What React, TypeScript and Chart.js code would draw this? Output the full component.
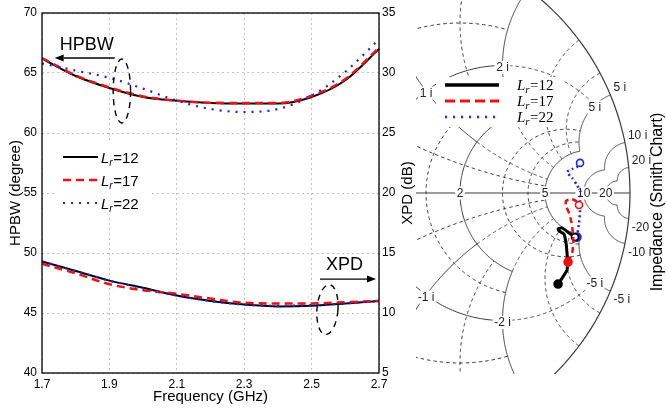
import React, { useEffect, useRef } from 'react';
import { Chart, registerables } from 'chart.js';

Chart.register(...registerables);

const SANS = "Arial, 'Liberation Sans', Helvetica, sans-serif";
const SERIF = "'Times New Roman', 'Liberation Serif', serif";
Chart.defaults.font.family = SANS;
Chart.defaults.color = '#000';

// ---------- HPBW / XPD versus frequency ----------
const frequencyGHz = [1.7, 1.8, 1.9, 2.0, 2.1, 2.2, 2.3, 2.4, 2.5, 2.6, 2.7];
const frequencyTicks = [1.7, 1.9, 2.1, 2.3, 2.5, 2.7];
const hpbwTicks = [40, 45, 50, 55, 60, 65, 70];
const xpdTicks = [5, 10, 15, 20, 25, 30, 35];

const lengthLabels = ['12', '17', '22'];

const hpbwLr12 = [66.2, 64.75, 63.75, 63.0, 62.68, 62.5, 62.45, 62.45, 63.0, 64.4, 67.0];
const hpbwLr17 = [66.25, 64.8, 63.8, 63.05, 62.7, 62.52, 62.5, 62.5, 63.1, 64.5, 67.1];
const hpbwLr22 = [65.8, 65.2, 64.6, 63.7, 62.7, 62.0, 61.75, 62.0, 63.1, 65.1, 67.8];

const xpdLr12 = [14.3, 13.5, 12.7, 12.1, 11.45, 11.0, 10.7, 10.55, 10.6, 10.8, 11.0];
const xpdLr17 = [14.1, 13.3, 12.4, 11.9, 11.6, 11.2, 10.85, 10.8, 10.8, 10.9, 11.0];
const xpdLr22 = [14.3, 13.5, 12.7, 12.05, 11.45, 11.0, 10.7, 10.6, 10.65, 10.8, 11.0];

// ---------- Input impedance on the Smith chart (reflection coefficient) ----------
const smithLr12Re = [0.718, 0.737, 0.753, 0.755, 0.753, 0.749, 0.741, 0.722, 0.718, 0.733, 0.761, 0.784];
const smithLr12Im = [-0.357, -0.329, -0.302, -0.271, -0.235, -0.196, -0.161, -0.149, -0.141, -0.137, -0.157, -0.173];
const smithLr17Re = [0.757, 0.773, 0.778, 0.776, 0.771, 0.761, 0.749, 0.749, 0.769, 0.788, 0.8];
const smithLr17Im = [-0.271, -0.235, -0.196, -0.157, -0.118, -0.078, -0.051, -0.031, -0.024, -0.031, -0.047];
const smithLr22Re = [0.792, 0.8, 0.804, 0.804, 0.806, 0.792, 0.773, 0.753, 0.773, 0.792, 0.804];
const smithLr22Im = [-0.173, -0.118, -0.067, -0.016, 0.004, 0.031, 0.059, 0.082, 0.094, 0.102, 0.118];

// Smith chart grid: [resistance, reactance from, reactance to] and [reactance, resistance from, resistance to]
const majorResistance = [[1, -2, 2], [2, -2, 2], [5, -5, 5], [10, -10, 10], [20, -20, 20]];
const majorReactance = [[1, 0, 2], [-1, 0, 2], [2, 0, 2], [-2, 0, 2], [5, 0, 5], [-5, 0, 5], [10, 0, 10], [-10, 0, 10], [20, 0, 20], [-20, 0, 20]];
const minorResistance = [[0.5, -2, 2], [1.5, -2, 2], [3, -5, 5], [4, -5, 5], [1, 2, 5], [1, -5, -2]];
const minorReactance = [[0.5, 0, 5], [-0.5, 0, 5], [1.5, 0, 2], [-1.5, 0, 2], [3, 0, 5], [-3, 0, 5], [4, 0, 5], [-4, 0, 5], [1, 2, 5], [-1, 2, 5], [2, 2, 5], [-2, 2, 5]];
const axisResistanceTicks = [2, 5, 10, 20];
const rimReactanceTicks = [5, 10, 20, -5, -10, -20];
const rimReactanceText = ['5 i', '10 i', '20 i', '-5 i', '-10 i', '-20'];
const unitCircleReactanceTicks = [1, 2, 5, -1, -2, -5];

// ---------- styles ----------
const COLORS = ['#000000', '#f01010', '#1f1fff'];
const LINE_DASH = [[], [8, 5], [2, 6]];
const LINE_WIDTH = [2, 2.5, 2.2];
const SMITH_DASH = [[], [6, 4], [2, 3]];
const SMITH_WIDTH = [3, 2.5, 2.5];
const LEGEND_DASH = [[], [10, 5], [2, 6]];
const LEGEND_WIDTH = [3.5, 3, 2.5];

const LEFT_W = 416;
const PAGE_H = 411;
// Smith chart frame: centre and radius in page pixels
const SMITH_CX = 375;
const SMITH_CY = 193;
const SMITH_R = 255;
const SMITH_LEFT = 416;
const SMITH_W = 250;
const SMITH_H = 374;

// Annotation anchors (data coordinates)
const hpbwNote = { text: 'HPBW', at: [1.7526, 66.94], from: [1.916, 66.25], to: [1.7377, 66.25], ring: [1.937, 63.5], rx: 8.7, ry: 32 };
const xpdNote = { text: 'XPD', at: [2.5426, 13.55], from: [2.5248, 12.83], to: [2.6911, 12.83], ring: [2.547, 10.28], rx: 10.5, ry: 25 };

function drawArrow(ctx: any, x0: number, y0: number, x1: number, y1: number) {
  const ang = Math.atan2(y1 - y0, x1 - x0);
  const L = 9, W = 3.5;
  const c = Math.cos(ang), s = Math.sin(ang);
  ctx.beginPath();
  ctx.moveTo(x0, y0);
  ctx.lineTo(x1 - L * c, y1 - L * s);
  ctx.stroke();
  ctx.beginPath();
  ctx.moveTo(x1, y1);
  ctx.lineTo(x1 - L * c + W * s, y1 - L * s - W * c);
  ctx.lineTo(x1 - L * c - W * s, y1 - L * s + W * c);
  ctx.closePath();
  ctx.fill();
}

function drawLrText(ctx: any, x: number, baseline: number, value: string, family: string, size: number, sub: number) {
  ctx.fillStyle = '#000';
  ctx.textAlign = 'left';
  ctx.textBaseline = 'alphabetic';
  ctx.font = `italic ${size}px ${family}`;
  ctx.fillText('L', x, baseline);
  x += ctx.measureText('L').width;
  ctx.font = `italic ${sub}px ${family}`;
  ctx.fillText('r', x, baseline + size * 0.2);
  x += ctx.measureText('r').width + 0.5;
  ctx.font = `${size}px ${family}`;
  ctx.fillText('=' + value, x, baseline);
}

const frequencyDecor = {
  id: 'frequencyDecor',
  afterDatasetsDraw(chart: any) {
    const { ctx, chartArea: a } = chart;
    const { x, y, y1 } = chart.scales;
    ctx.save();
    ctx.strokeStyle = '#000';
    ctx.fillStyle = '#000';
    ctx.lineWidth = 1.3;

    // HPBW note (left axis)
    ctx.font = `18px ${SANS}`;
    ctx.textAlign = 'left';
    ctx.textBaseline = 'alphabetic';
    ctx.fillText(hpbwNote.text, x.getPixelForValue(hpbwNote.at[0]), y.getPixelForValue(hpbwNote.at[1]));
    drawArrow(ctx, x.getPixelForValue(hpbwNote.from[0]), y.getPixelForValue(hpbwNote.from[1]),
      x.getPixelForValue(hpbwNote.to[0]), y.getPixelForValue(hpbwNote.to[1]));
    // XPD note (right axis)
    ctx.fillText(xpdNote.text, x.getPixelForValue(xpdNote.at[0]), y1.getPixelForValue(xpdNote.at[1]));
    drawArrow(ctx, x.getPixelForValue(xpdNote.from[0]), y1.getPixelForValue(xpdNote.from[1]),
      x.getPixelForValue(xpdNote.to[0]), y1.getPixelForValue(xpdNote.to[1]));

    ctx.setLineDash([6, 5]);
    ctx.lineWidth = 1.4;
    ctx.beginPath();
    ctx.ellipse(x.getPixelForValue(hpbwNote.ring[0]), y.getPixelForValue(hpbwNote.ring[1]), hpbwNote.rx, hpbwNote.ry, 0, 0, Math.PI * 2);
    ctx.stroke();
    ctx.beginPath();
    ctx.ellipse(x.getPixelForValue(xpdNote.ring[0]), y1.getPixelForValue(xpdNote.ring[1]), xpdNote.rx, xpdNote.ry, 0.08, 0, Math.PI * 2);
    ctx.stroke();
    ctx.setLineDash([]);

    // legend
    ctx.fillStyle = '#fff';
    ctx.fillRect(a.left + 14, a.top + 129, 94, 72);
    for (let i = 0; i < 3; i++) {
      const ds = chart.data.datasets[i];
      const ly = a.top + 144 + i * 23;
      ctx.strokeStyle = ds.borderColor;
      ctx.lineWidth = ds.borderWidth;
      ctx.setLineDash(ds.borderDash || []);
      ctx.beginPath();
      ctx.moveTo(a.left + 21, ly);
      ctx.lineTo(a.left + 56, ly);
      ctx.stroke();
      ctx.setLineDash([]);
      drawLrText(ctx, a.left + 59, ly + 5.5, lengthLabels[i], SANS, 15, 10);
    }
    ctx.restore();
  },
  afterDraw(chart: any) {
    const { ctx, chartArea: a } = chart;
    ctx.save();
    ctx.strokeStyle = '#000';
    ctx.lineWidth = 1.3;
    ctx.strokeRect(a.left, a.top, a.right - a.left, a.bottom - a.top);
    // right-hand axis title, reading upwards
    ctx.translate(a.right + 29, (a.top + a.bottom) / 2);
    ctx.rotate(-Math.PI / 2);
    ctx.font = `15px ${SANS}`;
    ctx.fillStyle = '#000';
    ctx.textAlign = 'center';
    ctx.textBaseline = 'middle';
    ctx.fillText('XPD (dB)', 0, 0);
    ctx.restore();
  },
};

function FrequencyChart() {
  const ref = useRef<HTMLCanvasElement>(null);
  useEffect(() => {
    const hpbw = [hpbwLr12, hpbwLr17, hpbwLr22];
    const xpd = [xpdLr12, xpdLr17, xpdLr22];
    const drawOrder = [2, 1, 0];
    const make = (vals: number[], i: number, axis: string, name: string) => ({
      label: `${name} Lr=${lengthLabels[i]}`,
      data: frequencyGHz.map((f, k) => ({ x: f, y: vals[k] })),
      yAxisID: axis,
      borderColor: COLORS[i],
      borderWidth: LINE_WIDTH[i],
      borderDash: LINE_DASH[i],
      pointRadius: 0,
      cubicInterpolationMode: 'monotone' as const,
      fill: false,
      order: drawOrder[i],
    });
    const datasets = [
      ...hpbw.map((v, i) => make(v, i, 'y', 'HPBW')),
      ...xpd.map((v, i) => make(v, i, 'y1', 'XPD')),
    ];
    const tickFont = { size: 12, family: SANS };
    const chart = new Chart(ref.current as HTMLCanvasElement, {
      type: 'line',
      data: { datasets },
      options: {
        responsive: false,
        animation: false,
        devicePixelRatio: 1,
        layout: { padding: { top: 13, left: 0, right: 0, bottom: 0 }, autoPadding: false },
        plugins: { legend: { display: false }, tooltip: { enabled: false } },
        scales: {
          x: {
            type: 'linear',
            min: 1.7,
            max: 2.7,
            afterBuildTicks: (s: any) => { s.ticks = frequencyTicks.map((v) => ({ value: v })); },
            afterFit: (s: any) => { s.height = 38; },
            ticks: { font: tickFont, color: '#000', padding: 4, maxRotation: 0, callback: (v: any) => Number(v).toFixed(1) },
            grid: { color: '#c4c4c4', lineWidth: 1, drawTicks: false },
            border: { display: false, dash: [2, 3] },
            title: { display: true, text: 'Frequency (GHz)', font: { size: 15, family: SANS }, color: '#000', padding: { top: 0, bottom: 5 } },
          },
          y: {
            type: 'linear',
            position: 'left',
            min: 40,
            max: 70,
            afterBuildTicks: (s: any) => { s.ticks = hpbwTicks.map((v) => ({ value: v })); },
            afterFit: (s: any) => { s.width = 42; },
            ticks: { font: tickFont, color: '#000', padding: 5 },
            grid: { color: '#c4c4c4', lineWidth: 1, drawTicks: false },
            border: { display: false, dash: [2, 3] },
            title: { display: true, text: 'HPBW (degree)', font: { size: 15, family: SANS }, color: '#000', padding: { top: 7, bottom: 0 } },
          },
          y1: {
            type: 'linear',
            position: 'right',
            min: 5,
            max: 35,
            afterBuildTicks: (s: any) => { s.ticks = xpdTicks.map((v) => ({ value: v })); },
            afterFit: (s: any) => { s.width = LEFT_W - 379; },
            ticks: { font: tickFont, color: '#000', padding: 3 },
            grid: { drawOnChartArea: false, drawTicks: false },
            border: { display: false },
          },
        },
      },
      plugins: [frequencyDecor],
    } as any);
    return () => chart.destroy();
  }, []);
  return (
    <canvas
      ref={ref}
      width={LEFT_W}
      height={PAGE_H}
      style={{ position: 'absolute', left: 0, top: 0, width: LEFT_W, height: PAGE_H }}
    />
  );
}

// reflection coefficient of the normalised impedance r + jx
function gamma(r: number, x: number): [number, number] {
  const d = (r + 1) * (r + 1) + x * x;
  return [(r * r + x * x - 1) / d, (2 * x) / d];
}
const normAngle = (a: number) => (a < 0 ? a + Math.PI * 2 : a);

function strokeArc(ctx: any, P: any, cx: number, cy: number, rho: number, a0: number, a1: number) {
  const n = 180;
  ctx.beginPath();
  for (let k = 0; k <= n; k++) {
    const t = a0 + ((a1 - a0) * k) / n;
    const [px, py] = P(cx + rho * Math.cos(t), cy + rho * Math.sin(t));
    if (k === 0) ctx.moveTo(px, py);
    else ctx.lineTo(px, py);
  }
  ctx.stroke();
}
function strokeResistance(ctx: any, P: any, r: number, x0: number, x1: number) {
  const c = r / (r + 1);
  const rho = 1 / (r + 1);
  const g0 = gamma(r, x0);
  const g1 = gamma(r, x1);
  strokeArc(ctx, P, c, 0, rho, normAngle(Math.atan2(g0[1], g0[0] - c)), normAngle(Math.atan2(g1[1], g1[0] - c)));
}
function strokeReactance(ctx: any, P: any, x: number, r0: number, r1: number) {
  const cy = 1 / x;
  const rho = Math.abs(1 / x);
  const g0 = gamma(r0, x);
  const g1 = gamma(r1, x);
  strokeArc(ctx, P, 1, cy, rho, normAngle(Math.atan2(g0[1] - cy, g0[0] - 1)), normAngle(Math.atan2(g1[1] - cy, g1[0] - 1)));
}
function boxedText(ctx: any, text: string, x: number, y: number) {
  const w = ctx.measureText(text).width;
  ctx.fillStyle = '#fff';
  ctx.fillRect(x - w / 2 - 1.5, y - 6.5, w + 3, 13);
  ctx.fillStyle = '#222';
  ctx.textAlign = 'center';
  ctx.textBaseline = 'middle';
  ctx.fillText(text, x, y + 0.5);
}

const smithGrid = {
  id: 'smithGrid',
  beforeDatasetsDraw(chart: any) {
    const { ctx } = chart;
    const sx = chart.scales.x;
    const sy = chart.scales.y;
    const P = (gx: number, gy: number) => [sx.getPixelForValue(gx), sy.getPixelForValue(gy)];
    ctx.save();
    ctx.strokeStyle = '#3a3a3a';
    ctx.lineWidth = 1;
    ctx.setLineDash([3.5, 3]);
    minorResistance.forEach(([r, a, b]) => strokeResistance(ctx, P, r, a, b));
    minorReactance.forEach(([x, a, b]) => strokeReactance(ctx, P, x, a, b));
    ctx.setLineDash([]);
    majorResistance.forEach(([r, a, b]) => strokeResistance(ctx, P, r, a, b));
    majorReactance.forEach(([x, a, b]) => strokeReactance(ctx, P, x, a, b));
    ctx.lineWidth = 1.2;
    strokeArc(ctx, P, 0, 0, 1, 0, Math.PI * 2);
    ctx.lineWidth = 1;
    const [ax0, ay0] = P(-1, 0);
    const [ax1, ay1] = P(1, 0);
    ctx.beginPath();
    ctx.moveTo(ax0, ay0);
    ctx.lineTo(ax1, ay1);
    ctx.stroke();

    ctx.font = `12px ${SANS}`;
    axisResistanceTicks.forEach((r) => {
      const g = gamma(r, 0);
      const [px, py] = P(g[0], g[1]);
      boxedText(ctx, String(r), px, py);
    });
    unitCircleReactanceTicks.forEach((x) => {
      const g = gamma(1, x);
      const [px, py] = P(g[0], g[1]);
      boxedText(ctx, `${x} i`, px, py + 2);
    });
    ctx.fillStyle = '#222';
    ctx.textAlign = 'left';
    rimReactanceTicks.forEach((x, i) => {
      const g = gamma(0, x);
      const [px, py] = P(g[0], g[1]);
      if (x > 0) {
        ctx.textBaseline = 'alphabetic';
        ctx.fillText(rimReactanceText[i], px + 3, py - 4);
      } else {
        ctx.textBaseline = 'top';
        ctx.fillText(rimReactanceText[i], px + 3, py + 3);
      }
    });
    ctx.restore();
  },
  afterDatasetsDraw(chart: any) {
    const { ctx } = chart;
    ctx.save();
    // legend
    ctx.fillStyle = '#fff';
    ctx.fillRect(20, 77, 126, 50);
    for (let i = 0; i < 3; i++) {
      const ds = chart.data.datasets[i];
      const ly = 85 + i * 16;
      ctx.strokeStyle = ds.borderColor;
      ctx.lineWidth = LEGEND_WIDTH[i];
      ctx.setLineDash(LEGEND_DASH[i]);
      ctx.beginPath();
      ctx.moveTo(29, ly);
      ctx.lineTo(83, ly);
      ctx.stroke();
      ctx.setLineDash([]);
      drawLrText(ctx, 101, ly + 4.5, lengthLabels[i], SERIF, 15, 11);
    }
    // axis title
    ctx.translate(SMITH_W - 8, 202);
    ctx.rotate(-Math.PI / 2);
    ctx.font = `16px ${SANS}`;
    ctx.fillStyle = '#000';
    ctx.textAlign = 'center';
    ctx.textBaseline = 'middle';
    ctx.fillText('Impedance (Smith Chart)', 0, 0);
    ctx.restore();
  },
};

function SmithChart() {
  const ref = useRef<HTMLCanvasElement>(null);
  useEffect(() => {
    const series = [
      { re: smithLr12Re, im: smithLr12Im },
      { re: smithLr17Re, im: smithLr17Im },
      { re: smithLr22Re, im: smithLr22Im },
    ];
    const drawOrder = [1, 0, 2];
    const datasets = series.map((s, i) => {
      const last = s.re.length - 1;
      return {
        label: `Lr=${lengthLabels[i]}`,
        data: s.re.map((g, k) => ({ x: g, y: s.im[k] })),
        showLine: true,
        tension: 0.2,
        borderColor: COLORS[i],
        borderWidth: SMITH_WIDTH[i],
        borderDash: SMITH_DASH[i],
        pointRadius: (c: any) => (c.dataIndex === 0 ? 4 : c.dataIndex === last ? 3.5 : 0),
        pointBackgroundColor: (c: any) => (c.dataIndex === 0 ? COLORS[i] : '#fff'),
        pointBorderColor: COLORS[i],
        pointBorderWidth: 1.6,
        order: drawOrder[i],
      };
    });
    const chart = new Chart(ref.current as HTMLCanvasElement, {
      type: 'scatter',
      data: { datasets },
      options: {
        responsive: false,
        animation: false,
        devicePixelRatio: 1,
        layout: { padding: 0, autoPadding: false },
        plugins: { legend: { display: false }, tooltip: { enabled: false } },
        scales: {
          x: {
            type: 'linear',
            display: false,
            min: (SMITH_LEFT - SMITH_CX) / SMITH_R,
            max: (SMITH_LEFT + SMITH_W - SMITH_CX) / SMITH_R,
          },
          y: {
            type: 'linear',
            display: false,
            min: (SMITH_CY - SMITH_H) / SMITH_R,
            max: SMITH_CY / SMITH_R,
          },
        },
      },
      plugins: [smithGrid],
    } as any);
    return () => chart.destroy();
  }, []);
  return (
    <canvas
      ref={ref}
      width={SMITH_W}
      height={SMITH_H}
      style={{ position: 'absolute', left: SMITH_LEFT, top: 0, width: SMITH_W, height: SMITH_H }}
    />
  );
}

export default function App() {
  return (
    <div style={{ position: 'fixed', left: 0, top: 0, width: 666, height: PAGE_H, background: '#fff', overflow: 'hidden' }}>
      <FrequencyChart />
      <SmithChart />
    </div>
  );
}
